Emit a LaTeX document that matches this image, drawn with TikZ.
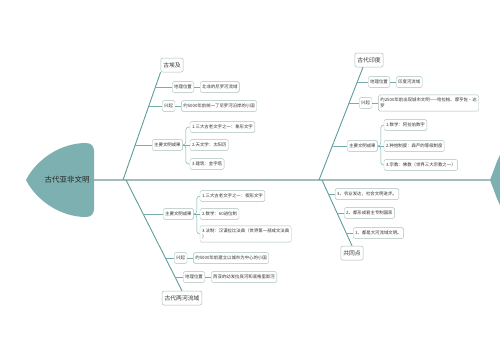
\documentclass[tikz,border=0pt]{standalone}
\usepackage{fontspec}
\newfontfamily\cjk{Noto Sans CJK SC}
\usetikzlibrary{positioning,calc}
\definecolor{FishTeal}{HTML}{7DB1B1}
\definecolor{BoneTeal}{HTML}{5E9C9C}
\definecolor{SpineGray}{HTML}{A3BDBD}
\definecolor{BoxEdge}{HTML}{A7BFBA}
\definecolor{TwigTeal}{HTML}{78ADAD}

\begin{document}
\begin{tikzpicture}[x=1pt, y=-1pt,
    mainbox/.style={draw=BoxEdge, fill=white, rounded corners=2pt, line width=0.5pt,
      font=\cjk\fontsize{5.8}{7}\selectfont, inner xsep=2.5pt, minimum height=14pt, text=black!80},
    subbox/.style={draw=BoxEdge, fill=white, rounded corners=1.5pt, line width=0.4pt,
      font=\cjk\fontsize{4.4}{5.5}\selectfont, inner xsep=2pt, minimum height=9pt, text=black!80},
    leafbox/.style={subbox, align=left},
    bone/.style={BoneTeal, line width=0.9pt},
    twig/.style={TwigTeal, line width=0.5pt},
    bracket/.style={twig, rounded corners=3pt}]

    \useasboundingbox (0,0) rectangle (500,360);

    % ========== Tail and head ==========
    \fill[FishTeal] (26,180) .. controls (36,160) and (60,143) .. (86,143)
        .. controls (91,143) and (94,146) .. (94,151) -- (94,209)
        .. controls (94,214) and (91,217) .. (86,217)
        .. controls (60,217) and (36,200) .. (26,180) -- cycle;
    \node[font=\cjk\fontsize{7.5}{9}\selectfont, text=black!85] (root) at (67,180) {古代亚非文明};

    \fill[FishTeal] (490,180) .. controls (494,170) and (497,160) .. (501,153) -- (510,153)
        -- (510,207) -- (501,207) .. controls (497,200) and (494,190) .. (490,180) -- cycle;

    % Spine
    \coordinate (tailEnd) at (94,180);
    \coordinate (headTip) at (490,180);
    \draw[SpineGray, line width=1.6pt] (tailEnd) -- (headTip);

    \coordinate (bA) at (123,180);
    \coordinate (bB) at (126,180);
    \coordinate (bC) at (319,180);
    \coordinate (bD) at (322,180);

    % ========== Upper left: Egypt ==========
    \node[mainbox] (egypt) at (172,65) {古埃及};
    \draw[bone] (bA) -- (egypt.south west);

    \node[subbox, anchor=west] (eGeo) at (172,87) {地理位置};
    \node[subbox, right=6pt of eGeo] (eGeoT) {北非的尼罗河流域};
    \coordinate (eA1) at (155,87);
    \draw[twig] (eA1) -- (eGeo);
    \draw[twig] (eGeo) -- (eGeoT);

    \node[subbox, anchor=west] (eRise) at (162,106) {兴起};
    \node[subbox, right=6pt of eRise] (eRiseT) {约5000年前统一了尼罗河沿岸的小国};
    \coordinate (eA2) at (148.5,106);
    \draw[twig] (eA2) -- (eRise);
    \draw[twig] (eRise) -- (eRiseT);

    \node[subbox, anchor=west] (eRes) at (152,145) {主要文明成果};
    \node[leafbox, anchor=west] (eRes1) at ($(eRes.east)+(7,-18)$) {1.三大古老文字之一：象形文字};
    \node[leafbox, anchor=west] (eRes2) at ($(eRes.east)+(7,0)$) {2.天文学：太阳历};
    \node[leafbox, anchor=west] (eRes3) at ($(eRes.east)+(7,19)$) {3.建筑：金字塔};
    \coordinate (eA3) at (135,145);
    \draw[twig] (eA3) -- (eRes);
    \draw[bracket] (eRes.east) -- ++(3,0) |- (eRes1.west);
    \draw[twig] (eRes.east) -- (eRes2.west);
    \draw[bracket] (eRes.east) -- ++(3,0) |- (eRes3.west);

    % ========== Lower left: Mesopotamia ==========
    \node[mainbox] (meso) at (182,298) {古代两河流域};
    \draw[bone] (bB) -- (meso.north);

    \node[subbox, anchor=west] (mRes) at (163,214) {主要文明成果};
    \node[leafbox, anchor=west] (mRes1) at ($(mRes.east)+(6,-18)$) {1.三大古老文字之一：楔形文字};
    \node[leafbox, anchor=west] (mRes2) at ($(mRes.east)+(6,0)$) {2.数学：60进位制};
    \node[leafbox, anchor=west] (mRes3) at ($(mRes.east)+(6,20)$) {3.法制：汉谟拉比法典（世界第一部成文法典\\）};
    \coordinate (mB1) at (143,214);
    \draw[twig] (mB1) -- (mRes);
    \draw[bracket] (mRes.east) -- ++(3,0) |- (mRes1.west);
    \draw[twig] (mRes.east) -- (mRes2.west);
    \draw[bracket] (mRes.east) -- ++(3,0) |- (mRes3.west);

    \node[subbox, anchor=west] (mRise) at (174,258) {兴起};
    \node[subbox, right=6pt of mRise] (mRiseT) {约5000年前建立以城市为中心的小国};
    \coordinate (mB2) at (165,258);
    \draw[twig] (mB2) -- (mRise);
    \draw[twig] (mRise) -- (mRiseT);

    \node[subbox, anchor=west] (mGeo) at (183,277) {地理位置};
    \node[subbox, right=6pt of mGeo] (mGeoT) {西亚的幼发拉底河和底格里斯河};
    \coordinate (mB3) at (174.5,277);
    \draw[twig] (mB3) -- (mGeo);
    \draw[twig] (mGeo) -- (mGeoT);

    % ========== Upper right: India ==========
    \node[mainbox] (india) at (369,60) {古代印度};
    \draw[bone] (bC) -- ($(india.south)+(-6,0)$);

    \node[subbox, anchor=west] (iGeo) at (368,82) {地理位置};
    \node[subbox, right=6pt of iGeo] (iGeoT) {印度河流域};
    \coordinate (iC1) at (357,82);
    \draw[twig] (iC1) -- (iGeo);
    \draw[twig] (iGeo) -- (iGeoT);

    \node[subbox, anchor=west] (iRise) at (359,103) {兴起};
    \node[leafbox, right=6pt of iRise] (iRiseT) {约2500年前出现城市文明——哈拉帕、摩亨佐·达\\罗};
    \coordinate (iC2) at (349,103);
    \draw[twig] (iC2) -- (iRise);
    \draw[twig] (iRise) -- (iRiseT);

    \node[subbox, anchor=west] (iRes) at (347,146) {主要文明成果};
    \node[leafbox, anchor=west] (iRes1) at ($(iRes.east)+(6,-21)$) {1.数学：阿拉伯数字};
    \node[leafbox, anchor=west] (iRes2) at ($(iRes.east)+(6,0)$) {2.种姓制度：森严的等级制度};
    \node[leafbox, anchor=west] (iRes3) at ($(iRes.east)+(6,19)$) {3.宗教：佛教（世界三大宗教之一）};
    \coordinate (iC3) at (332,146);
    \draw[twig] (iC3) -- (iRes);
    \draw[bracket] (iRes.east) -- ++(3,0) |- (iRes1.west);
    \draw[twig] (iRes.east) -- (iRes2.west);
    \draw[bracket] (iRes.east) -- ++(3,0) |- (iRes3.west);

    % ========== Lower right: common points ==========
    \node[mainbox] (common) at (352,253) {共同点};
    \draw[bone] (bD) -- (common.north);

    \node[leafbox, anchor=west] (cp3) at (335,194) {3、农业发达，社会文明进步。};
    \node[leafbox, anchor=west] (cp2) at (344,213) {2、都形成君主专制国家};
    \node[leafbox, anchor=west] (cp1) at (353,233) {1、都是大河流域文明。};
    \coordinate (dD1) at (328.4,194);
    \coordinate (dD2) at (337,213);
    \coordinate (dD3) at (346,233);
    \draw[twig] (dD1) -- (cp3);
    \draw[twig] (dD2) -- (cp2);
    \draw[twig] (dD3) -- (cp1);

\end{tikzpicture}
\end{document}
